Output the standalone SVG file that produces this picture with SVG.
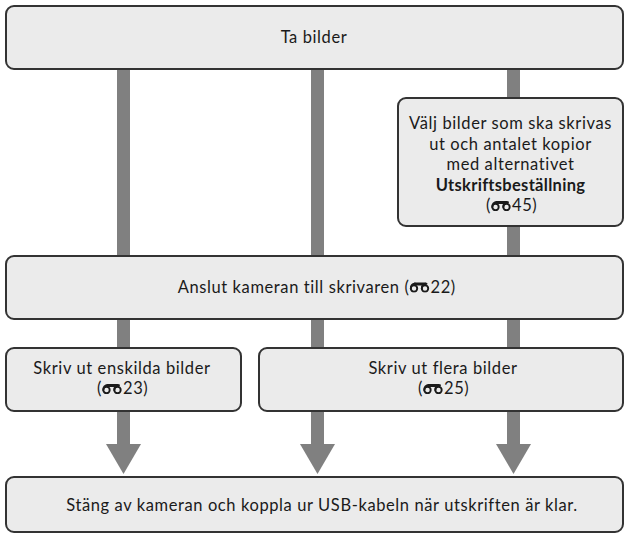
<svg xmlns="http://www.w3.org/2000/svg" width="625" height="538" viewBox="0 0 625 538">
  <style>
    .box { fill: #ebebeb; stroke: #333333; stroke-width: 2; }
    .bar { fill: #808080; }
    .t { font-family: Lato, "Open Sans", "Liberation Sans", sans-serif; font-size: 16.5px; letter-spacing: 0.6px; fill: #1a1a1a; }
    .c { text-anchor: middle; }
    .e { text-anchor: end; }
    .b { font-weight: bold; letter-spacing: 0.3px; }
    .ic { fill: none; stroke: #1a1a1a; stroke-width: 1.9; stroke-linecap: round; }
  </style>
  <defs>
    <symbol id="bino" viewBox="0 0 21 12">
      <circle class="ic" cx="5" cy="8" r="3.2"/>
      <circle class="ic" cx="16" cy="8" r="3.2"/>
      <path class="ic" d="M1.8 8 Q1.8 3.2 6.5 3.2"/>
      <path class="ic" d="M12.8 8 Q12.8 3.2 17.5 3.2"/>
      <rect x="5" y="2" width="12" height="3" fill="#1a1a1a"/>
    </symbol>
  </defs>

  <g id="connectors">
    <rect class="bar" x="117" y="69" width="13" height="376"/>
    <rect class="bar" x="311" y="69" width="13" height="376"/>
    <rect class="bar" x="507" y="69" width="13" height="376"/>
    <polygon class="bar" points="106,444 141,444 123.5,474"/>
    <polygon class="bar" points="300,444 335,444 317.5,474"/>
    <polygon class="bar" points="496,444 531,444 513.5,474"/>
  </g>

  <g id="node-ta-bilder">
    <rect class="box" x="6" y="6" width="617" height="63" rx="8"/>
    <text class="t c" x="314" y="43">Ta bilder</text>
  </g>

  <g id="node-valj">
    <rect class="box" x="398" y="98" width="225" height="128" rx="8"/>
    <text class="t c" x="510.5" y="129">Välj bilder som ska skrivas</text>
    <text class="t c" x="510.5" y="149.5">ut och antalet kopior</text>
    <text class="t c" x="510.5" y="170">med alternativet</text>
    <text class="t c b" x="510.5" y="190.5">Utskriftsbeställning</text>
    <text class="t e" x="491" y="211">(</text>
    <use href="#bino" x="490.5" y="199" width="21" height="12"/>
    <text class="t" x="512" y="211">45)</text>
  </g>

  <g id="node-anslut">
    <rect class="box" x="6" y="256" width="617" height="63" rx="8"/>
    <text class="t e" x="409.5" y="292.5">Anslut kameran till skrivaren (</text>
    <use href="#bino" x="409" y="280.5" width="21" height="12"/>
    <text class="t" x="430.5" y="292.5">22)</text>
  </g>

  <g id="node-enskilda">
    <rect class="box" x="6" y="348" width="235" height="63" rx="8"/>
    <text class="t c" x="122" y="374">Skriv ut enskilda bilder</text>
    <text class="t e" x="102" y="394">(</text>
    <use href="#bino" x="101.5" y="382" width="21" height="12"/>
    <text class="t" x="123" y="394">23)</text>
  </g>

  <g id="node-flera">
    <rect class="box" x="259" y="348" width="364" height="63" rx="8"/>
    <text class="t c" x="443" y="374">Skriv ut flera bilder</text>
    <text class="t e" x="423" y="394">(</text>
    <use href="#bino" x="422.5" y="382" width="21" height="12"/>
    <text class="t" x="444" y="394">25)</text>
  </g>

  <g id="node-stang">
    <rect class="box" x="6" y="477" width="617" height="55" rx="8"/>
    <text class="t c" x="322" y="510.5">Stäng av kameran och koppla ur USB-kabeln när utskriften är klar.</text>
  </g>
</svg>
